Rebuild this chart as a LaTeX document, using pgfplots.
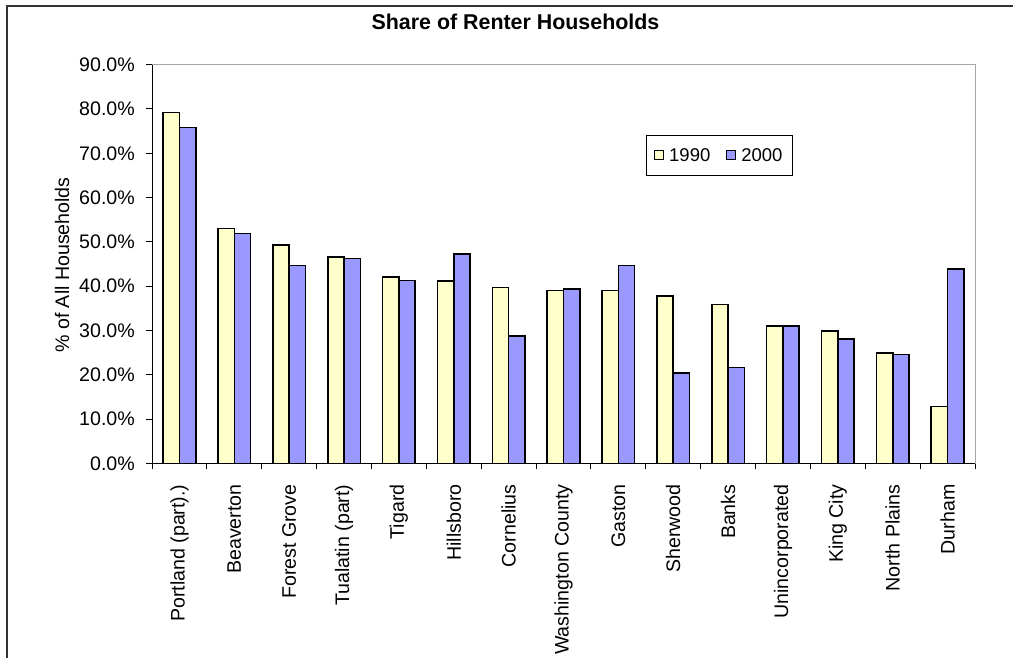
\documentclass[border=0pt]{standalone}
\usepackage{pgfplots}
\pgfplotsset{compat=1.18}
\usepackage{fontspec}
\setmainfont{Liberation Sans}
\definecolor{yel}{HTML}{FFFFCC}
\definecolor{per}{HTML}{9999FF}
\begin{document}
\begin{tikzpicture}[x=1pt,y=1pt]
\useasboundingbox (0,0) rectangle (1013,-658);
\begin{scope}
\clip (0,0) rectangle (1013,-658);
\draw[line width=2pt, black!80] (6.5,-700) -- (6.5,-5.7) -- (1100,-5.7);
\end{scope}
\node[font=\bfseries\fontsize{21.4pt}{25pt}\selectfont] at (515.5,-22) {Share of Renter Households};
\node[rotate=90, font=\fontsize{19.6pt}{23pt}\selectfont] at (62,-265) {\% of All Households};
\begin{axis}[
  at={(152pt,-463.3pt)}, anchor=south west,
  scale only axis, width=823pt, height=398.6pt,
  xmin=-0.5, xmax=14.5, ymin=0, ymax=90,
  ybar=0pt, bar width=16.3pt,
  axis line style={gray!70, line width=1pt},
  tick pos=left, tick align=outside,
  ytick={0,10,...,90},
  major tick length=6pt, minor tick length=6pt,
  y tick style={black, line width=1pt},
  major x tick style={draw=none},
  minor x tick style={black, line width=1pt},
  xtick={0,...,14},
  minor xtick={-0.5,0.5,...,14.5},
  xticklabels={Portland (part).),Beaverton,Forest Grove,Tualatin (part),Tigard,Hillsboro,Cornelius,Washington County,Gaston,Sherwood,Banks,Unincorporated,King City,North Plains,Durham},
  /pgf/number format/assume math mode=true,
  yticklabel={\pgfmathprintnumber[fixed,fixed zerofill,precision=1]{\tick}\%},
  tick label style={font=\fontsize{19.6pt}{23pt}\selectfont},
  x tick label style={rotate=90, anchor=east, inner sep=0pt},
  y tick label style={anchor=east, inner sep=0pt},
  xticklabel shift=15pt,
  yticklabel shift=11pt,
  legend columns=2,
  legend style={at={(0.6,0.824)}, anchor=north west, draw=black, line width=0.8pt,
    font=\fontsize{18.5pt}{22pt}\selectfont,
    /tikz/every even column/.append style={column sep=14pt},
    inner xsep=8pt, inner ysep=11pt},
  legend image code/.code={\draw[#1, line width=1pt] (0pt,-4.5pt) rectangle (9pt,4.5pt);},
]
\addplot[fill=yel, draw=black, line width=1.6pt] coordinates {
(0,79.2) (1,53.0) (2,49.3) (3,46.6) (4,42.0) (5,41.2) (6,39.7) (7,39.0)
(8,39.0) (9,37.8) (10,35.9) (11,31.0) (12,29.9) (13,24.9) (14,12.8)};
\addplot[fill=per, draw=black, line width=1.6pt] coordinates {
(0,75.8) (1,51.9) (2,44.7) (3,46.2) (4,41.3) (5,47.3) (6,28.8) (7,39.4)
(8,44.7) (9,20.4) (10,21.6) (11,31.0) (12,28.0) (13,24.6) (14,43.9)};
\legend{\hspace{3pt}1990,\hspace{3pt}2000}
\draw[black, line width=1.2pt] (rel axis cs:0,1) -- (rel axis cs:0,0) -- (rel axis cs:1,0);
\end{axis}
\end{tikzpicture}
\end{document}
